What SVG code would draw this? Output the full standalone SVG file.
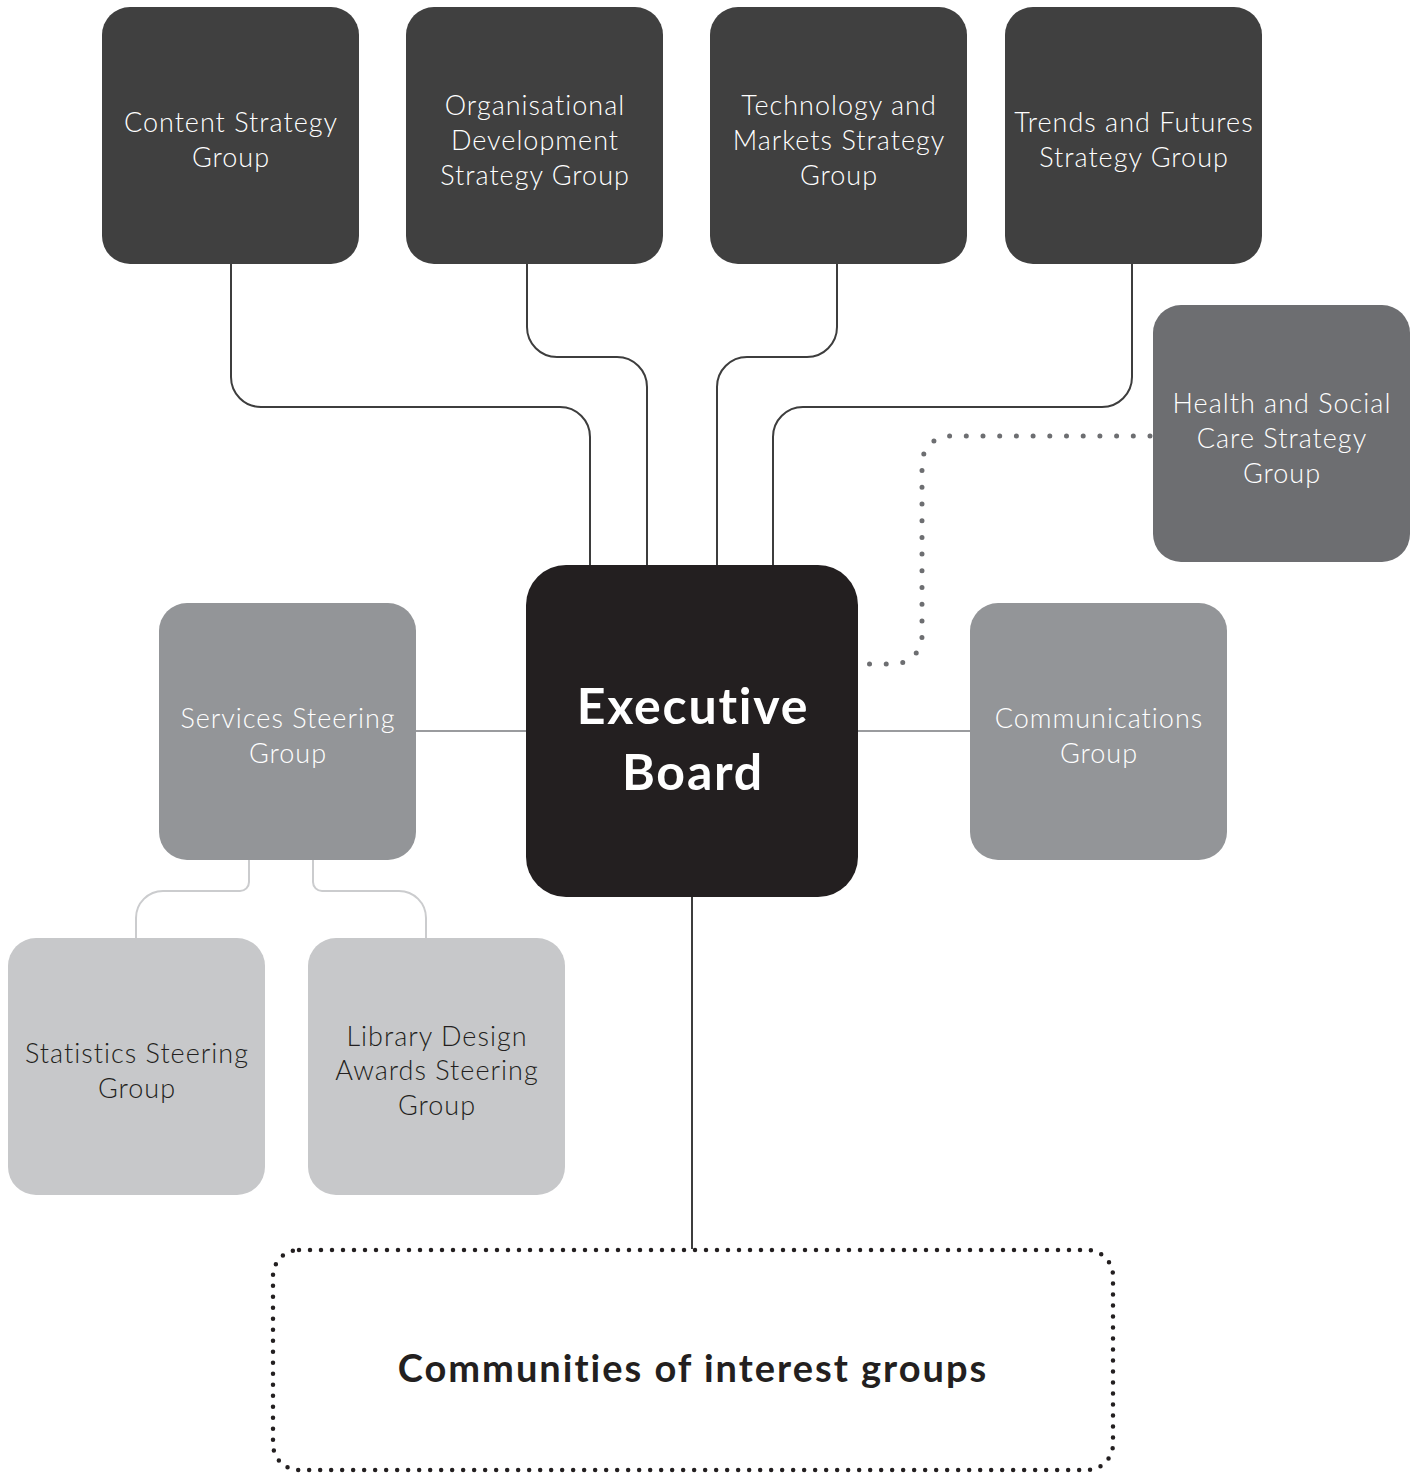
<svg xmlns="http://www.w3.org/2000/svg" width="1421" height="1474" viewBox="0 0 1421 1474">
  <style>
    .lbl { font-family: Lato, "Open Sans", "Liberation Sans", sans-serif; font-size: 27px; font-weight: 300; letter-spacing: 1px; text-anchor: middle; font-variant-ligatures: none; }
    .big { font-family: Lato, "Open Sans", "Liberation Sans", sans-serif; font-weight: 700; text-anchor: middle; font-variant-ligatures: none; }
    .light { fill: #ffffff; }
    .dark { fill: #231f20; }
    .strat { fill: #404040; }
    .health { fill: #6d6e71; }
    .mid { fill: #939598; }
    .pale { fill: #c7c8ca; }
    .exec { fill: #231f20; }
    .wire { fill: none; stroke: #3d3d3d; stroke-width: 2; }
    .wire-mid { fill: none; stroke: #9a9b9e; stroke-width: 2; }
    .wire-pale { fill: none; stroke: #cbccce; stroke-width: 2; }
    .dots { fill: none; stroke: #6d6e71; stroke-width: 5; stroke-linecap: round; stroke-dasharray: 0 16.7; }
    .dots-box { fill: none; stroke: #231f20; stroke-width: 4.5; stroke-linecap: round; stroke-dasharray: 0 11; }
  </style>
  <rect width="1421" height="1474" fill="#ffffff"/>

  <g id="connectors">
    <!-- strategy groups to the board -->
    <path class="wire" d="M231,264 V377 A30,30 0 0 0 261,407 H560 A30,30 0 0 1 590,437 V565"/>
    <path class="wire" d="M527,264 V327 A30,30 0 0 0 557,357 H617 A30,30 0 0 1 647,387 V565"/>
    <path class="wire" d="M837,264 V327 A30,30 0 0 1 807,357 H747 A30,30 0 0 0 717,387 V565"/>
    <path class="wire" d="M1132,264 V377 A30,30 0 0 1 1102,407 H803 A30,30 0 0 0 773,437 V565"/>
    <!-- dotted link to health and social care -->
    <path class="dots" d="M1150,436 H950 A28,28 0 0 0 922,464 V636 A28,28 0 0 1 894,664 H862"/>
    <!-- side groups -->
    <path class="wire-mid" d="M416,731 H526"/>
    <path class="wire-mid" d="M858,731 H970"/>
    <!-- services sub-groups -->
    <path class="wire-pale" d="M249,860 V882 A9,9 0 0 1 240,891 H163 A27,27 0 0 0 136,918 V938"/>
    <path class="wire-pale" d="M313,860 V882 A9,9 0 0 0 322,891 H399 A27,27 0 0 1 426,918 V938"/>
    <!-- board to communities -->
    <path class="wire" d="M692,897 V1249"/>
  </g>

  <g id="content-strategy">
    <rect class="strat" x="102" y="7" width="257" height="257" rx="28"/>
    <text class="lbl light" x="231" y="132">Content Strategy</text>
    <text class="lbl light" x="231" y="167">Group</text>
  </g>
  <g id="organisational-development">
    <rect class="strat" x="406" y="7" width="257" height="257" rx="28"/>
    <text class="lbl light" x="535" y="115">Organisational</text>
    <text class="lbl light" x="535" y="150">Development</text>
    <text class="lbl light" x="535" y="185">Strategy Group</text>
  </g>
  <g id="technology-markets">
    <rect class="strat" x="710" y="7" width="257" height="257" rx="28"/>
    <text class="lbl light" x="839" y="115">Technology and</text>
    <text class="lbl light" x="839" y="150">Markets Strategy</text>
    <text class="lbl light" x="839" y="185">Group</text>
  </g>
  <g id="trends-futures">
    <rect class="strat" x="1005" y="7" width="257" height="257" rx="28"/>
    <text class="lbl light" x="1134" y="132">Trends and Futures</text>
    <text class="lbl light" x="1134" y="167">Strategy Group</text>
  </g>
  <g id="health-social-care">
    <rect class="health" x="1153" y="305" width="257" height="257" rx="28"/>
    <text class="lbl light" x="1282" y="413">Health and Social</text>
    <text class="lbl light" x="1282" y="448">Care Strategy</text>
    <text class="lbl light" x="1282" y="483">Group</text>
  </g>
  <g id="executive-board">
    <rect class="exec" x="526" y="565" width="332" height="332" rx="40"/>
    <text class="big light" x="693" y="724" font-size="50" letter-spacing="1.8">Executive</text>
    <text class="big light" x="693" y="790" font-size="50" letter-spacing="1.8">Board</text>
  </g>
  <g id="services-steering">
    <rect class="mid" x="159" y="603" width="257" height="257" rx="28"/>
    <text class="lbl light" x="288" y="728">Services Steering</text>
    <text class="lbl light" x="288" y="763">Group</text>
  </g>
  <g id="communications">
    <rect class="mid" x="970" y="603" width="257" height="257" rx="28"/>
    <text class="lbl light" x="1099" y="728">Communications</text>
    <text class="lbl light" x="1099" y="763">Group</text>
  </g>
  <g id="statistics-steering">
    <rect class="pale" x="8" y="938" width="257" height="257" rx="28"/>
    <text class="lbl dark" x="137" y="1063">Statistics Steering</text>
    <text class="lbl dark" x="137" y="1098">Group</text>
  </g>
  <g id="library-design-awards">
    <rect class="pale" x="308" y="938" width="257" height="257" rx="28"/>
    <text class="lbl dark" x="437" y="1046">Library Design</text>
    <text class="lbl dark" x="437" y="1080">Awards Steering</text>
    <text class="lbl dark" x="437" y="1115">Group</text>
  </g>
  <g id="communities-of-interest">
    <rect class="dots-box" x="273" y="1250" width="840" height="220" rx="26"/>
    <text class="big dark" x="693" y="1382" font-size="38" letter-spacing="2">Communities of interest groups</text>
  </g>
</svg>
